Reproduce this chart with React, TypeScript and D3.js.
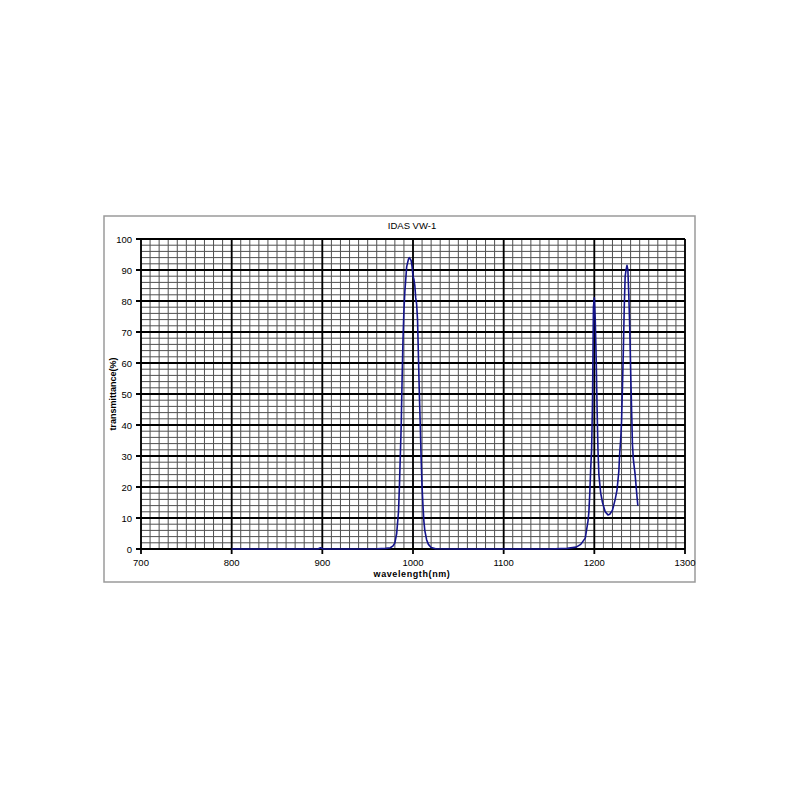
import React from "react";
import * as d3 from "d3";

const wavelengths = [800, 850, 880, 895, 898, 901, 930, 960, 970, 975, 978, 980, 982, 984, 985, 986, 987, 988, 989, 990, 991, 993, 995, 996, 997, 998, 999, 1000, 1001, 1002, 1003, 1004, 1005, 1006, 1007, 1008, 1009, 1010, 1011, 1012, 1013, 1015, 1017, 1020, 1025, 1050, 1100, 1150, 1170, 1180, 1185, 1190, 1193, 1194, 1195, 1196, 1197, 1198, 1199, 1200, 1201, 1202, 1203, 1204, 1205, 1207, 1209, 1212, 1215, 1217, 1220, 1223, 1225, 1227, 1228, 1229, 1230, 1231, 1232, 1233, 1234, 1235, 1236, 1237, 1238, 1239, 1240, 1241, 1242, 1243, 1245, 1247, 1248];
const transmittance = [0, 0, 0, 0, 0.4, 0, 0, 0.1, 0.2, 0.4, 1, 2, 5, 12, 20, 30, 40, 55, 68, 77, 83, 91, 93.5, 94, 93.5, 93, 91, 88, 87, 85, 81, 79, 74, 62, 50, 40, 29, 20, 14, 9, 6, 3, 1.5, 0.5, 0.1, 0, 0, 0, 0.2, 0.6, 1.5, 3.5, 9, 12, 18, 26, 32, 48, 78, 81, 74, 62, 46, 32, 24, 18, 15, 12, 11, 11.2, 12.5, 16, 19, 25, 31, 35, 41, 52, 64, 78, 88, 90, 91.5, 90, 82, 72, 58, 46, 34, 29, 24, 17, 14];

const xTicks = [700, 800, 900, 1000, 1100, 1200, 1300];
const yTicks = [0, 10, 20, 30, 40, 50, 60, 70, 80, 90, 100];
const title = "IDAS VW-1";
const xTitle = "wavelength(nm)";
const yTitle = "transmittance(%)";

export default function App() {
  const x = d3.scaleLinear().domain([700, 1300]).range([141, 685]);
  const y = d3.scaleLinear().domain([0, 100]).range([549, 239]);
  const xMinor = d3.range(700, 1301, 10);
  const yMinor = d3.range(0, 100.01, 2);
  const pts = wavelengths.map((w, i) => [w, transmittance[i]] as [number, number]);
  const line = d3.line<[number, number]>().x(d => x(d[0])).y(d => y(d[1]));
  const font = "'Liberation Sans', Arial, sans-serif";
  return (
    <div style={{ position: "fixed", left: 0, top: 0 }}>
      <svg width={800} height={800} style={{ display: "block", background: "#fff" }}>
        <rect x={104} y={216} width={591} height={366} fill="#fff" stroke="#9a9a9a" strokeWidth={1.5} />
        {xMinor.map(v => (
          <line key={"xm" + v} x1={x(v)} x2={x(v)} y1={y(0)} y2={y(100)} stroke="#505050" strokeWidth={1} />
        ))}
        {yMinor.map(v => (
          <line key={"ym" + v} x1={x(700)} x2={x(1300)} y1={y(v)} y2={y(v)} stroke="#505050" strokeWidth={1} />
        ))}
        {xTicks.map(v => (
          <line key={"xM" + v} x1={x(v)} x2={x(v)} y1={y(0) + 5} y2={y(100)} stroke="#000" strokeWidth={1.8} />
        ))}
        {yTicks.map(v => (
          <line key={"yM" + v} x1={x(700) - 5} x2={x(1300)} y1={y(v)} y2={y(v)} stroke="#000" strokeWidth={1.8} />
        ))}
        <path d={line(pts) || ""} fill="none" stroke="#14148c" strokeWidth={1.6} strokeLinejoin="round" />
        {xTicks.map(v => (
          <text key={"xl" + v} x={x(v)} y={566} textAnchor="middle" fontFamily={font} fontSize={9.5} fill="#000">{v}</text>
        ))}
        {yTicks.map(v => (
          <text key={"yl" + v} x={132} y={y(v) + 3.5} textAnchor="end" fontFamily={font} fontSize={9.5} fill="#000">{v}</text>
        ))}
        <text x={412} y={229} textAnchor="middle" fontFamily={font} fontSize={9.5} fill="#000">{title}</text>
        <text x={412} y={577} textAnchor="middle" fontFamily={font} fontSize={9} fontWeight="bold" letterSpacing={0.6} fill="#000">{xTitle}</text>
        <text transform={`translate(116,${y(50)}) rotate(-90)`} textAnchor="middle" fontFamily={font} fontSize={9} fontWeight="bold" fill="#000">{yTitle}</text>
      </svg>
    </div>
  );
}
